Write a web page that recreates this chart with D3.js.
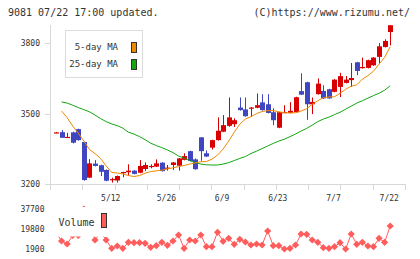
<!DOCTYPE html>
<html>
<head>
<meta charset="utf-8">
<script src="https://cdn.jsdelivr.net/npm/d3@7"></script>
<style>
body { margin: 0; background: #fff; }
text { font-family: "DejaVu Sans Mono", "Liberation Mono", monospace; fill: #333; }
</style>
</head>
<body>
<div id="graph"></div>
<script>
// trading days, 4/23 .. 7/22
var dates = ["4/23","4/24","4/25","4/28","4/30","5/1","5/2","5/7","5/8","5/9",
  "5/12","5/13","5/14","5/15","5/16","5/19","5/20","5/21","5/22","5/23",
  "5/26","5/27","5/28","5/29","5/30","6/2","6/3","6/4","6/5","6/6",
  "6/9","6/10","6/11","6/12","6/13","6/16","6/17","6/18","6/19","6/20",
  "6/23","6/24","6/25","6/26","6/27","6/30","7/1","7/2","7/3","7/4",
  "7/7","7/8","7/9","7/10","7/11","7/14","7/15","7/16","7/17","7/18","7/22"];
var dateLabels = ["5/12","5/26","6/9","6/23","7/7","7/22"];

var open = [3420,3421,3400,3420,3434,3379,3227,3287,3280,3260,
  3216,3215,3246,3250,3257,3248,3264,3276,3274,3291,
  3268,3281,3278,3303,3340,3305,3399,3331,3355,3387,
  3423,3448,3455,3526,3518,3525,3525,3548,3540,3506,
  3440,3506,3503,3506,3596,3634,3540,3583,3597,3604,
  3593,3614,3631,3643,3719,3694,3695,3706,3742,3784,3848];
var high = [3422,3430,3418,3423,3436,3380,3306,3302,3282,3262,
  3227,3236,3252,3284,3259,3302,3292,3284,3305,3293,
  3281,3294,3311,3331,3342,3309,3400,3343,3389,3484,
  3494,3569,3480,3569,3569,3528,3586,3583,3583,3523,
  3508,3536,3549,3572,3672,3636,3569,3650,3621,3606,
  3647,3674,3660,3716,3721,3739,3730,3741,3801,3817,3878];
var low = [3418,3397,3400,3373,3385,3214,3225,3275,3234,3212,
  3206,3206,3229,3235,3241,3246,3255,3267,3272,3253,
  3257,3260,3257,3301,3296,3261,3299,3315,3347,3385,
  3421,3444,3443,3513,3487,3486,3523,3513,3501,3451,
  3438,3505,3501,3504,3579,3474,3498,3581,3563,3563,
  3591,3571,3629,3614,3664,3692,3693,3704,3714,3782,3791];
var close = [3420,3397,3401,3376,3387,3217,3288,3277,3252,3214,
  3221,3234,3251,3257,3243,3277,3281,3277,3288,3255,
  3270,3292,3309,3319,3298,3263,3340,3317,3387,3427,
  3451,3484,3472,3515,3489,3526,3536,3515,3503,3472,
  3506,3507,3512,3570,3581,3540,3550,3628,3565,3565,
  3645,3660,3645,3652,3682,3699,3728,3739,3787,3810,3877];

// moving averages as drawn (first day has none)
var ma5 = [null,3511,3483,3447,3417,3383,3347,3330,3309,3277,
  3249,3247,3243,3236,3232,3236,3246,3253,3256,3259,
  3264,3269,3274,3279,3285,3290,3295,3296,3306,3323,
  3349,3383,3421,3455,3477,3487,3500,3509,3513,3513,
  3508,3504,3503,3504,3511,3521,3540,3555,3568,3571,
  3572,3587,3604,3617,3623,3647,3662,3681,3711,3740,3785];
var ma25 = [null,3550,3545,3536,3526,3517,3508,3494,3479,3466,
  3456,3449,3438,3421,3413,3402,3389,3374,3364,3355,
  3345,3334,3319,3311,3300,3291,3285,3282,3281,3281,
  3285,3291,3300,3309,3317,3330,3340,3351,3362,3373,
  3383,3391,3402,3413,3426,3437,3451,3466,3477,3485,
  3496,3506,3519,3532,3545,3555,3566,3577,3587,3600,3619];

var volume = [17000,9060,6375,14000,14000,37700,26000,9955,17000,9955,
  2500,4600,2500,7900,7540,7540,7000,3400,4850,7900,
  5200,9060,14430,2500,9955,9060,14430,3960,3960,16850,
  8800,11480,6100,10580,8165,5480,6375,5480,18010,4850,
  4850,1900,2500,5480,15325,15060,9955,7900,3060,2500,
  3960,7540,1900,15325,6100,7900,4600,3960,11480,7900,22500];

var priceTicks = [3200, 3500, 3800];
var volTicks = [1900, 19800, 37700];

var W = 420, H = 259;
var left = 50, right = 405;
var red = "#d80000", blue = "#4046c0";

var svg = d3.select("#graph").append("svg")
  .attr("width", W)
  .attr("height", H);

// header texts
svg.append("text").attr("x", 8).attr("y", 16)
  .style("font-size", "10px").text("9081 07/22 17:00 updated.");
svg.append("text").attr("x", 410).attr("y", 16)
  .attr("text-anchor", "end")
  .style("font-size", "10px").text("(C)https://www.rizumu.net/");

// scales
var x = d3.scalePoint().domain(dates).range([56, 390.2]);
var y = d3.scaleLinear().domain([3200, 3878]).range([184, 25]);
var yv = d3.scaleLinear().domain([volTicks[0], volTicks[2]]).range([249, 209]);

// axis frame
svg.append("line")
  .attr("x1", left + 0.5).attr("x2", left + 0.5)
  .attr("y1", 25).attr("y2", 189)
  .attr("stroke", "#d8d8d8");
svg.append("line")
  .attr("x1", left).attr("x2", right + 1)
  .attr("y1", 184.5).attr("y2", 184.5)
  .attr("stroke", "#d8d8d8");

// small ticks along the bottom
svg.selectAll(".xt")
  .data(d3.range(12))
  .enter().append("line")
  .attr("x1", function(k) { return Math.round(left + k * (right - left) / 11) + 0.5; })
  .attr("x2", function(k) { return Math.round(left + k * (right - left) / 11) + 0.5; })
  .attr("y1", 184).attr("y2", 190)
  .attr("stroke", "#d8d8d8");

// y ticks + labels
svg.selectAll(".yt")
  .data(priceTicks)
  .enter().append("line")
  .attr("x1", 45).attr("x2", left)
  .attr("y1", function(d) { return Math.round(y(d)) + 0.5; })
  .attr("y2", function(d) { return Math.round(y(d)) + 0.5; })
  .attr("stroke", "#d8d8d8");
svg.selectAll(".yl")
  .data(priceTicks)
  .enter().append("text")
  .attr("x", 40)
  .attr("y", function(d) { return y(d) + 3; })
  .attr("text-anchor", "end")
  .style("font-size", "8px")
  .text(function(d) { return d; });

// date labels
svg.selectAll(".xl")
  .data(dateLabels)
  .enter().append("text")
  .attr("x", function(d) { return x(d) - 1; })
  .attr("y", 201)
  .attr("text-anchor", "middle")
  .style("font-size", "8px")
  .text(function(d) { return d; });

// candles
var idx = d3.range(dates.length);
var candle = svg.selectAll(".candle")
  .data(idx)
  .enter().append("g");
candle.append("line")
  .attr("x1", function(i) { return Math.round(x(dates[i])) + 0.5; })
  .attr("x2", function(i) { return Math.round(x(dates[i])) + 0.5; })
  .attr("y1", function(i) { return y(high[i]); })
  .attr("y2", function(i) { return y(low[i]); })
  .attr("stroke", function(i) { return close[i] >= open[i] ? red : blue; });
candle.append("rect")
  .attr("x", function(i) { return Math.round(x(dates[i])) - 2; })
  .attr("width", 5)
  .attr("y", function(i) { return y(Math.max(open[i], close[i])); })
  .attr("height", function(i) { return Math.max(1.2, Math.abs(y(open[i]) - y(close[i]))); })
  .attr("fill", function(i) { return close[i] >= open[i] ? red : blue; });

// moving averages
var maLine = function(arr) {
  return d3.line()
    .defined(function(i) { return arr[i] != null; })
    .x(function(i) { return x(dates[i]); })
    .y(function(i) { return y(arr[i]); })
    .curve(d3.curveLinear)(idx);
};
svg.append("path").attr("d", maLine(ma25))
  .attr("fill", "none").attr("stroke", "#10a810").attr("stroke-width", 1);
svg.append("path").attr("d", maLine(ma5))
  .attr("fill", "none").attr("stroke", "#f08800").attr("stroke-width", 1);

// price legend
svg.append("rect").attr("x", 65.5).attr("y", 30.5).attr("width", 77).attr("height", 47)
  .attr("fill", "#fff").attr("stroke", "#dcdcdc");
svg.append("text").attr("x", 118).attr("y", 50).attr("text-anchor", "end")
  .style("font-size", "9px").text("5-day MA");
svg.append("text").attr("x", 118).attr("y", 67).attr("text-anchor", "end")
  .style("font-size", "9px").text("25-day MA");
svg.append("rect").attr("x", 131.5).attr("y", 42.5).attr("width", 5).attr("height", 10)
  .attr("fill", "#f08800").attr("stroke", "#333");
svg.append("rect").attr("x", 131.5).attr("y", 59.5).attr("width", 5).attr("height", 10)
  .attr("fill", "#10a810").attr("stroke", "#333");

// volume
svg.selectAll(".vl")
  .data(volTicks)
  .enter().append("text")
  .attr("x", 44.5)
  .attr("y", function(d) { return yv(d) + 3; })
  .attr("text-anchor", "end")
  .style("font-size", "8px")
  .text(function(d) { return d; });

var vcol = "#ff5c5c";
svg.append("path")
  .attr("d", d3.line()
    .x(function(i) { return x(dates[i]); })
    .y(function(i) { return yv(volume[i]); })(idx))
  .attr("fill", "none").attr("stroke", vcol).attr("stroke-width", 1);
svg.selectAll(".vp")
  .data(idx)
  .enter().append("path")
  .attr("transform", function(i) { return "translate(" + x(dates[i]) + "," + yv(volume[i]) + ")"; })
  .attr("d", "M0,-3.6L3.6,0L0,3.6L-3.6,0Z")
  .attr("fill", vcol);

// volume legend (white box sits over the line)
svg.append("rect").attr("x", 52).attr("y", 207).attr("width", 59).attr("height", 29.5)
  .attr("fill", "#fff");
svg.append("text").attr("x", 58.5).attr("y", 226)
  .style("font-size", "10px").text("Volume");
svg.append("rect").attr("x", 101.5).attr("y", 213.5).attr("width", 5).attr("height", 14)
  .attr("fill", vcol).attr("stroke", "#333");
</script>
</body>
</html>
